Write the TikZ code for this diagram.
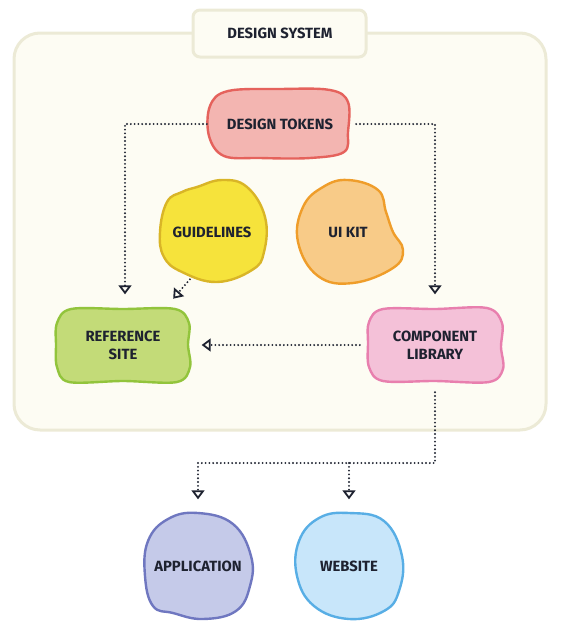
\documentclass[tikz,border=0pt]{standalone}
\usepackage{fontspec}
\setmainfont{Fira Sans}
\usetikzlibrary{arrows.meta,backgrounds}

\definecolor{ink}{HTML}{1E2230}
\definecolor{paper}{HTML}{FDFCF3}
\definecolor{paperline}{HTML}{ECEAD6}
\definecolor{tokensfill}{HTML}{F3B5B1}
\definecolor{tokensline}{HTML}{E5625C}
\definecolor{guidefill}{HTML}{F6E33B}
\definecolor{guideline}{HTML}{D9B527}
\definecolor{kitfill}{HTML}{F8CB88}
\definecolor{kitline}{HTML}{EF9D2A}
\definecolor{reffill}{HTML}{C3DB78}
\definecolor{refline}{HTML}{92C43C}
\definecolor{libfill}{HTML}{F4C1D8}
\definecolor{libline}{HTML}{E87FAE}
\definecolor{appfill}{HTML}{C5CAE9}
\definecolor{appline}{HTML}{6F77C0}
\definecolor{webfill}{HTML}{C8E6FA}
\definecolor{webline}{HTML}{58AEE5}

\begin{document}
\begin{tikzpicture}[x=1pt, y=-1pt,
    label text/.style={font=\bfseries\fontsize{14.8}{18}\selectfont, text=ink, align=center},
    box node/.style={label text, rectangle, minimum width=134pt, minimum height=74pt},
    round node/.style={label text, circle, minimum size=104pt},
    blob/.style={line width=2.4pt, line join=round},
    link/.style={draw=ink, line width=2.1pt, dash pattern=on 0pt off 3.8pt, line cap=round,
        -{Triangle[open, length=9pt, width=13pt, line width=1.8pt, sep=1.5pt]}}]
    \useasboundingbox (0,0) rectangle (561,630);

    \node[label text] (title) at (280,33) {DESIGN SYSTEM};
    \node[box node, minimum width=140pt, minimum height=68pt] (tokens) at (280,124) {DESIGN TOKENS};
    \node[round node] (guide) at (212,232) {GUIDELINES};
    \node[round node] (kit) at (348,232) {UI KIT};
    \node[box node] (refsite) at (123,345) {REFERENCE\\SITE};
    \node[box node] (complib) at (435,345) {COMPONENT\\LIBRARY};
    \node[round node, minimum size=106pt] (app) at (198,566) {APPLICATION};
    \node[round node, minimum size=106pt] (web) at (349,566) {WEBSITE};
    \coordinate (bend) at (198,463);

    \begin{pgfonlayer}{background}
        % system frame and its tab
        \draw[draw=paperline, fill=paper, line width=3pt, rounded corners=26pt]
            (14,33) rectangle (546,430);
        \draw[draw=paperline, fill=paper, line width=3pt, rounded corners=7pt]
            (193,10) rectangle (366,57);
        % blobs
        \draw[blob, draw=tokensline, fill=tokensfill, shift={(tokens.center)}]
            plot[smooth cycle, tension=0.6] coordinates {(-52,-33) (0,-35) (50,-34) (68,-22)
            (68,8) (64,28) (30,34) (-20,34) (-56,32) (-71,12) (-70,-18)};
        \draw[blob, draw=guideline, fill=guidefill, shift={(guide.center)}]
            plot[smooth cycle, tension=0.7] coordinates {(-52,0) (-45,-30) (-30,-40) (-15,-45)
            (10,-52) (35,-45) (53,-15) (52,20) (40,38) (5,50) (-30,40) (-48,25)};
        \draw[blob, draw=kitline, fill=kitfill, shift={(kit.center)}]
            plot[smooth cycle, tension=0.7] coordinates {(0,-52) (30,-42) (38,-20) (45,0) (55,18)
            (45,36) (5,51) (-30,44) (-50,10) (-45,-25) (-25,-45)};
        \draw[blob, draw=refline, fill=reffill, shift={(refsite.center)}]
            plot[smooth cycle, tension=0.55] coordinates {(-52,-36) (0,-36) (52,-36) (66,-22)
            (65,0) (67,22) (54,37) (0,36) (-54,37) (-66,22) (-67,0) (-66,-22)};
        \draw[blob, draw=libline, fill=libfill, shift={(complib.center)}]
            plot[smooth cycle, tension=0.55] coordinates {(-52,-36) (0,-36) (52,-37) (67,-22)
            (66,2) (68,24) (54,37) (0,36) (-52,36) (-66,22) (-67,-2) (-66,-23)};
        \draw[blob, draw=appline, fill=appfill, shift={(app.center)}]
            plot[smooth cycle, tension=0.7] coordinates {(0,-53) (35,-42) (53,-10) (52,20) (38,45)
            (5,53) (-25,47) (-45,40) (-53,10) (-50,-25) (-30,-47)};
        \draw[blob, draw=webline, fill=webfill, shift={(web.center)}]
            plot[smooth cycle, tension=0.7] coordinates {(0,-53) (35,-45) (53,-10) (50,25) (35,45)
            (0,53) (-35,40) (-52,10) (-50,-25) (-30,-48)};
    \end{pgfonlayer}

    \draw[link] ([xshift=-3pt]tokens.west) -| ([xshift=2pt,yshift=12pt]refsite.north);
    \draw[link] ([xshift=6pt]tokens.east) -| ([yshift=12pt]complib.north);
    \draw[link] (guide.245) -- ([xshift=-18pt,yshift=8pt]refsite.north east);
    \draw[link] ([xshift=-8pt]complib.west) -- ([xshift=10pt]refsite.east);
    \draw[link] ([yshift=-10pt]complib.south) |- (bend) -- ([yshift=12pt]app.north);
    \draw[link] (web.north |- bend) -- ([yshift=12pt]web.north);
\end{tikzpicture}
\end{document}
